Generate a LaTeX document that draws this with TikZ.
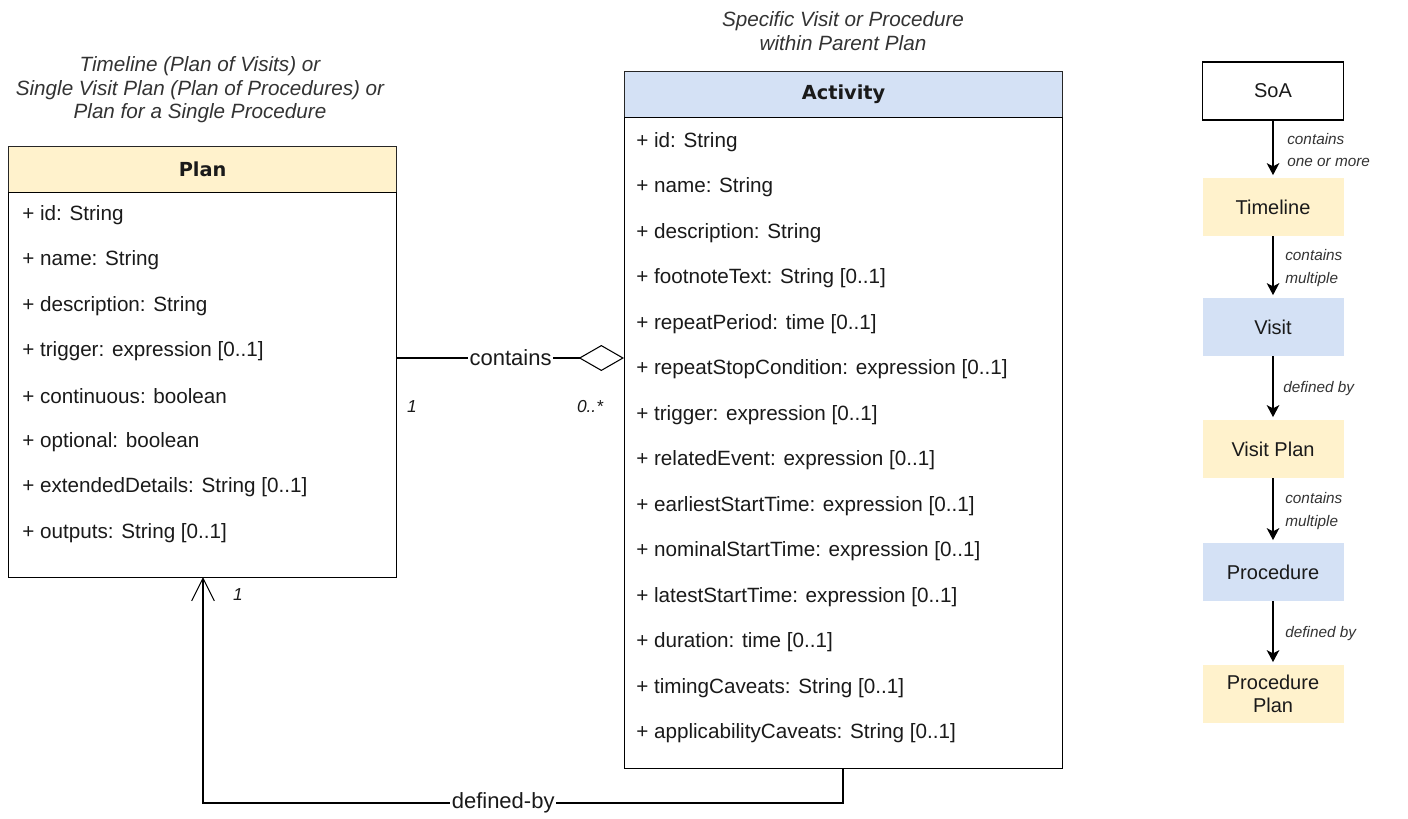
\documentclass[tikz,border=0pt]{standalone}
\usepackage{fontspec}
\setmainfont{Liberation Sans}
\newfontfamily\headfont{DejaVu Sans}
\usetikzlibrary{arrows.meta}
\definecolor{planyellow}{HTML}{FFF2CC}
\definecolor{actblue}{HTML}{D4E1F5}
\definecolor{txt}{HTML}{1A1A1A}
\definecolor{cap}{HTML}{333333}
\tikzset{
  hdr/.style={draw=black!85, line width=0.9pt, minimum height=46*0.75pt, inner sep=0pt, font=\headfont\bfseries\fontsize{14.5}{16}\selectfont, text=txt},
  bodybox/.style={draw=black, line width=0.9pt, inner sep=0pt},
  field/.style={anchor=west, inner sep=0pt, font=\fontsize{15.5}{17}\selectfont, text=txt},
  caption/.style={align=center, font=\itshape\fontsize{15.5}{17.6}\selectfont, text=cap},
  mult/.style={font=\itshape\fontsize{13}{15}\selectfont, text=txt},
  conlabel/.style={fill=white, inner sep=1pt, font=\fontsize{16.5}{18}\selectfont, text=txt},
  flowbox/.style={minimum width=141*0.75pt, minimum height=58*0.75pt, inner sep=0pt, align=center, font=\fontsize{15}{17.5}\selectfont, text=txt},
  flowlab/.style={anchor=west, align=left, inner sep=0pt, font=\itshape\fontsize{11.5}{17}\selectfont, text=cap},
  flowarr/.style={-{Stealth[length=9pt,width=9.5pt,inset=2.5pt]}, line width=0.8pt, shorten >=2pt},
}
\begin{document}
\begin{tikzpicture}[x=0.75pt,y=-0.75pt]
\useasboundingbox (0,0) rectangle (1408,818);
% ---------- Plan ----------
\node[caption] (plancap) at (200,90) {Timeline (Plan of Visits) or\\Single Visit Plan (Plan of Procedures) or\\Plan for a Single Procedure};
\node[hdr, fill=planyellow, minimum width=388*0.75pt, anchor=north west] (planh) at (8,146) {Plan};
\node[bodybox, minimum width=388*0.75pt, minimum height=385*0.75pt, anchor=north west] (planb) at (8,192) {};
\foreach \t [count=\i from 0] in {{+ id: String},{+ name: String},{+ description: String},{+ trigger: expression [0..1]},{+ continuous: boolean},{+ optional: boolean},{+ extendedDetails: String [0..1]},{+ outputs: String [0..1]}}
  \node[field] (pf\i) at (22,215+45.4*\i) {\t};
% ---------- Activity ----------
\node[caption] (actcap) at (843,31) {Specific Visit or Procedure\\within Parent Plan};
\node[hdr, fill=actblue, minimum width=438*0.75pt, anchor=north west] (acth) at (624,71) {Activity};
\node[bodybox, minimum width=438*0.75pt, minimum height=651*0.75pt, anchor=north west] (actb) at (624,117) {};
\foreach \t [count=\i from 0] in {{+ id: String},{+ name: String},{+ description: String},{+ footnoteText: String [0..1]},{+ repeatPeriod: time [0..1]},{+ repeatStopCondition: expression [0..1]},{+ trigger: expression [0..1]},{+ relatedEvent: expression [0..1]},{+ earliestStartTime: expression [0..1]},{+ nominalStartTime: expression [0..1]},{+ latestStartTime: expression [0..1]},{+ duration: time [0..1]},{+ timingCaveats: String [0..1]},{+ applicabilityCaveats: String [0..1]}}
  \node[field] (af\i) at (636,142+45.5*\i) {\t};
% ---------- contains ----------
\coordinate (cl) at (planb.east |- 0,358);
\coordinate (cr) at (actb.west |- 0,358);
\draw[line width=0.8pt, {}-{Diamond[open,length=34pt,width=19.5pt,fill=white]}] (cl) -- node[conlabel, pos=0.5] (contlab) {contains} (cr);
\node[mult] (m1) at (412,407) {1};
\node[mult] (m2) at (590,407) {0..*};
% ---------- defined-by ----------
\coordinate (dbs) at (843,768);
\coordinate (dbc1) at (843,803);
\coordinate (dbc2) at (203,803);
\coordinate (dbe) at (203,577);
\draw[line width=0.8pt, -{Straight Barb[length=17pt,width=17pt,line width=0.8pt]}] (actb.south -| dbs) -- (dbc1) -- node[conlabel, pos=0.531] (deflab) {defined-by} (dbc2) -- (dbe);
\node[mult] (m3) at (238,595) {1};
% ---------- Right flow ----------
\node[flowbox, draw=black, line width=0.8pt] (soa) at (1273,91) {SoA};
\node[flowbox, fill=planyellow] (timeline) at (1273,207) {Timeline};
\node[flowbox, fill=actblue] (visit) at (1273,327) {Visit};
\node[flowbox, fill=planyellow] (vplan) at (1273,449) {Visit Plan};
\node[flowbox, fill=actblue] (proc) at (1273,572) {Procedure};
\node[flowbox, fill=planyellow] (pplan) at (1273,694) {Procedure\\Plan};
\draw[flowarr] (soa) -- (timeline);
\draw[flowarr] (timeline) -- (visit);
\draw[flowarr] (visit) -- (vplan);
\draw[flowarr] (vplan) -- (proc);
\draw[flowarr] (proc) -- (pplan);
\node[flowlab] (l1) at (1287,150) {contains\\one or more};
\node[flowlab] (l2) at (1285,268) {contains\\multiple};
\node[flowlab] (l3) at (1283,389) {defined by};
\node[flowlab] (l4) at (1285,511) {contains\\multiple};
\node[flowlab] (l5) at (1285,634) {defined by};
\end{tikzpicture}
\end{document}
